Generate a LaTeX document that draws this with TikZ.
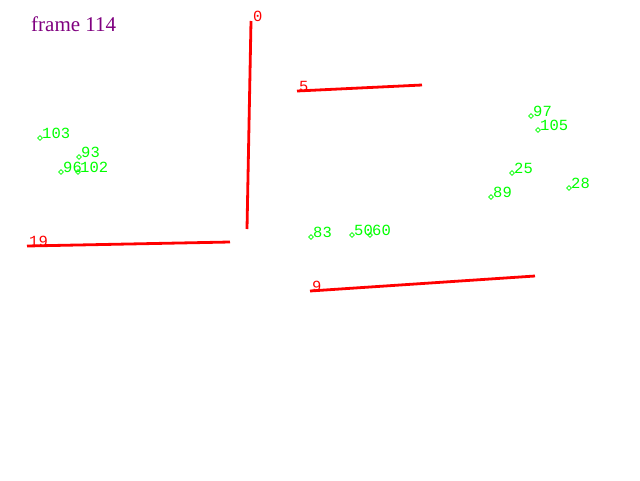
\documentclass[tikz,border=0pt]{standalone}
\usepackage{fontspec}
\setmainfont{Liberation Serif}
\newfontfamily\numfont{Liberation Mono}
\usetikzlibrary{shapes,arrows,positioning}
\definecolor{framepurple}{RGB}{128,0,128}

\begin{document}
\begin{tikzpicture}[x=1pt,y=-1pt,
  wall/.style={red,line width=2.8pt},
  wallnum/.style={text=red,font=\numfont\fontsize{15.5}{15.5}\selectfont,inner sep=0pt,anchor=base west},
  feat/.style={diamond,draw=green,line width=0.7pt,inner sep=0pt,minimum size=5pt},
  featnum/.style={text=green,font=\numfont\fontsize{15.5}{15.5}\selectfont,inner sep=0pt,anchor=base west}]
  \useasboundingbox[fill=white] (0,0) rectangle (640,480);
  \node[text=framepurple,font=\fontsize{21}{21}\selectfont,inner sep=0pt,anchor=base west] (title) at (31,31) {frame 114};
  % walls
  \coordinate (a0) at (251,21);
  \coordinate (b0) at (247,229);
  \coordinate (a5) at (297,91);
  \coordinate (b5) at (422,85);
  \coordinate (a19) at (27,246);
  \coordinate (b19) at (230,242);
  \coordinate (a9) at (310,291);
  \coordinate (b9) at (535,276);
  \draw[wall] (a0) -- (b0);
  \draw[wall] (a5) -- (b5);
  \draw[wall] (a19) -- (b19);
  \draw[wall] (a9) -- (b9);
  \node[wallnum] (w0) at ([xshift=2pt]a0) {0};
  \node[wallnum] (w5) at ([xshift=2pt]a5) {5};
  \node[wallnum] (w19) at ([xshift=2pt]a19) {19};
  \node[wallnum] (w9) at ([xshift=2pt]a9) {9};
  % features
  \node[feat] (f103) at (40,138) {};
  \node[feat] (f93) at (79,157) {};
  \node[feat] (f96) at (61,172) {};
  \node[feat] (f102) at (78,172) {};
  \node[feat] (f83) at (311,237) {};
  \node[feat] (f50) at (352,235) {};
  \node[feat] (f60) at (370,235) {};
  \node[feat] (f97) at (531,116) {};
  \node[feat] (f105) at (538,130) {};
  \node[feat] (f25) at (512,173) {};
  \node[feat] (f89) at (491,197) {};
  \node[feat] (f28) at (569,188) {};
  \node[featnum] (n103) at ([xshift=2pt]f103.center) {103};
  \node[featnum] (n93) at ([xshift=2pt]f93.center) {93};
  \node[featnum] (n96) at ([xshift=2pt]f96.center) {96};
  \node[featnum] (n102) at ([xshift=2pt]f102.center) {102};
  \node[featnum] (n83) at ([xshift=2pt]f83.center) {83};
  \node[featnum] (n50) at ([xshift=2pt]f50.center) {50};
  \node[featnum] (n60) at ([xshift=2pt]f60.center) {60};
  \node[featnum] (n97) at ([xshift=2pt]f97.center) {97};
  \node[featnum] (n105) at ([xshift=2pt]f105.center) {105};
  \node[featnum] (n25) at ([xshift=2pt]f25.center) {25};
  \node[featnum] (n89) at ([xshift=2pt]f89.center) {89};
  \node[featnum] (n28) at ([xshift=2pt]f28.center) {28};
\end{tikzpicture}
\end{document}
